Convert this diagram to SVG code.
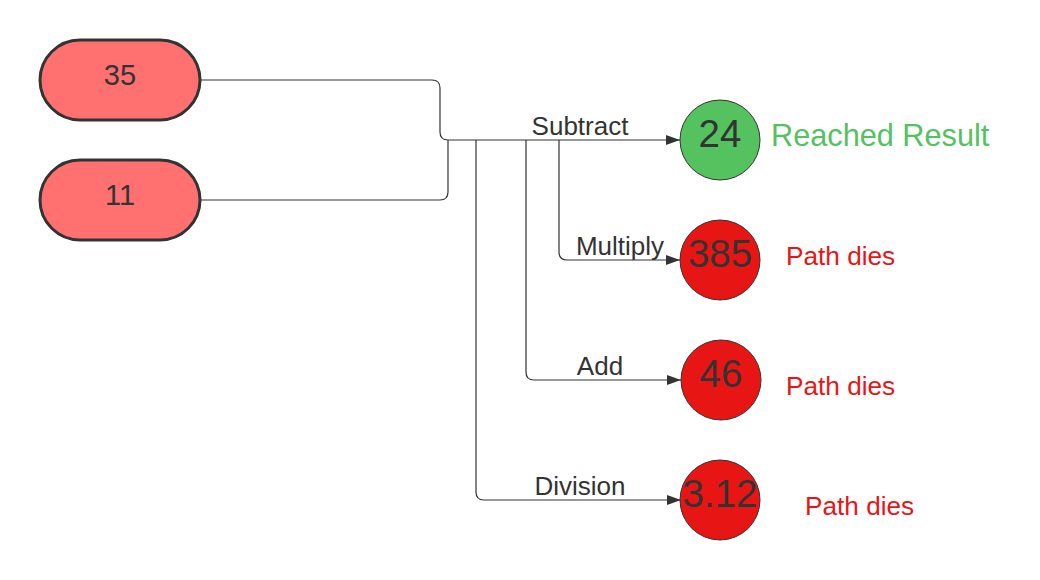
<svg xmlns="http://www.w3.org/2000/svg" width="1040" height="580" viewBox="0 0 1040 580">
<defs>
<marker id="arr" markerWidth="15" markerHeight="10" refX="14" refY="5" orient="auto" markerUnits="userSpaceOnUse">
<path d="M0,0 L14,5 L0,10 Z" fill="#333333"/>
</marker>
<style>
text{font-family:"Liberation Sans",Arial,sans-serif;}
.pill{fill:#ff7070;stroke:#333333;stroke-width:3;}
.ok{fill:#53c25f;stroke:#333333;stroke-width:1;}
.bad{fill:#e81515;stroke:#333333;stroke-width:1;}
.num{font-size:38.5px;fill:#333333;text-anchor:middle;}
.pnum{font-size:29px;fill:#333333;text-anchor:middle;}
.lbl{font-size:26px;fill:#333333;text-anchor:middle;}
.conn{fill:none;stroke:#333333;stroke-width:1.2;}
.dies{font-size:26.2px;fill:#e81515;}
.res{font-size:30.7px;fill:#53c25f;}
</style>
</defs>
<rect width="1040" height="580" fill="#ffffff"/>
<g id="connectors">
<path class="conn" d="M200,80 H432 Q440,80 440,88 V132 Q440,140 448,140 H680" marker-end="url(#arr)"/>
<path class="conn" d="M200,200 H440 Q448,200 448,192 V140"/>
<path class="conn" d="M559,140 V252 Q559,260 567,260 H680" marker-end="url(#arr)"/>
<path class="conn" d="M526,140 V372 Q526,380 534,380 H681" marker-end="url(#arr)"/>
<path class="conn" d="M476,140 V492 Q476,500 484,500 H681" marker-end="url(#arr)"/>
<text class="lbl" x="580" y="135">Subtract</text>
<text class="lbl" x="620" y="255">Multiply</text>
<text class="lbl" x="600" y="375">Add</text>
<text class="lbl" x="580" y="495">Division</text>
</g>
<g id="n35">
<rect class="pill" x="40" y="40" width="160" height="80" rx="40" ry="40"/>
<text class="pnum" x="120" y="85">35</text>
</g>
<g id="n11">
<rect class="pill" x="40" y="160" width="160" height="80" rx="40" ry="40"/>
<text class="pnum" x="120" y="205">11</text>
</g>
<g id="n24">
<circle class="ok" cx="720" cy="140" r="40"/>
<text class="num" x="720" y="147">24</text>
</g>
<g id="n385">
<circle class="bad" cx="720" cy="260" r="40"/>
<text class="num" x="720" y="267">385</text>
</g>
<g id="n46">
<circle class="bad" cx="721" cy="380" r="40"/>
<text class="num" x="721" y="387">46</text>
</g>
<g id="n312">
<circle class="bad" cx="720" cy="500" r="40"/>
<text class="num" x="720" y="507">3.12</text>
</g>
<g id="notes">
<text class="res" x="771" y="146">Reached Result</text>
<text class="dies" x="786" y="265">Path dies</text>
<text class="dies" x="786" y="395">Path dies</text>
<text class="dies" x="805" y="515">Path dies</text>
</g>
</svg>
